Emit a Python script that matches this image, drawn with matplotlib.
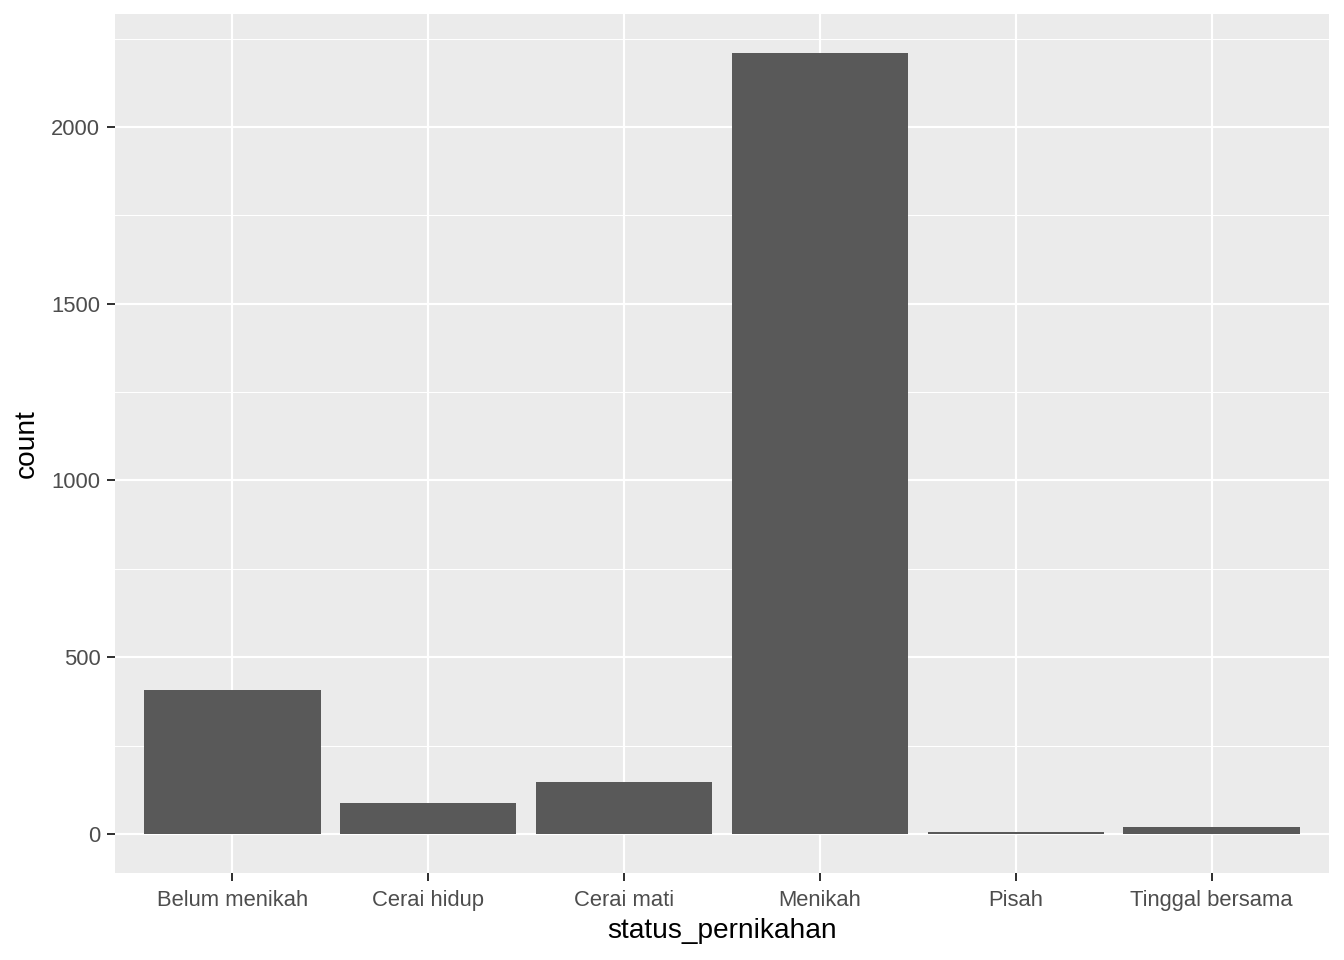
import matplotlib.pyplot as plt
import numpy as np

# data
categories = ["Belum menikah", "Cerai hidup", "Cerai mati", "Menikah", "Pisah", "Tinggal bersama"]
counts = [407, 87, 146, 2209, 5, 19]

plt.rcParams['font.family'] = ['Liberation Sans', 'DejaVu Sans']

fig = plt.figure(figsize=(14, 10), dpi=96)
ax = fig.add_axes([115/1344, (960-873)/960, (1329-115)/1344, (873-14)/960])

x = np.arange(1, len(categories) + 1)

ax.set_facecolor('#EBEBEB')
ax.set_axisbelow(True)
ax.bar(x, counts, width=0.9, color='#595959', zorder=3)

ymax = max(counts)
ax.set_ylim(-0.05*ymax, 1.05*ymax)
ax.set_xlim(0.4, len(categories) + 0.6)

ax.set_xticks(x)
ax.set_xticklabels(categories)
ax.set_yticks([0, 500, 1000, 1500, 2000])
ax.set_yticks([250, 750, 1250, 1750, 2250], minor=True)

ax.grid(which='major', color='white', linewidth=1.6)
ax.grid(which='minor', axis='y', color='white', linewidth=0.8)

for s in ax.spines.values():
    s.set_visible(False)

ax.tick_params(which='major', length=6, width=1.5, color='#333333',
               labelcolor='#4D4D4D', labelsize=16.5)
ax.tick_params(axis='y', pad=5)
ax.tick_params(axis='x', pad=7)
ax.tick_params(which='minor', length=0)

ax.set_xlabel('status_pernikahan', fontsize=21, color='black', labelpad=5)
ax.set_ylabel('count', fontsize=21, color='black', labelpad=9)

fig.savefig('out.png', dpi=96, facecolor='white')
